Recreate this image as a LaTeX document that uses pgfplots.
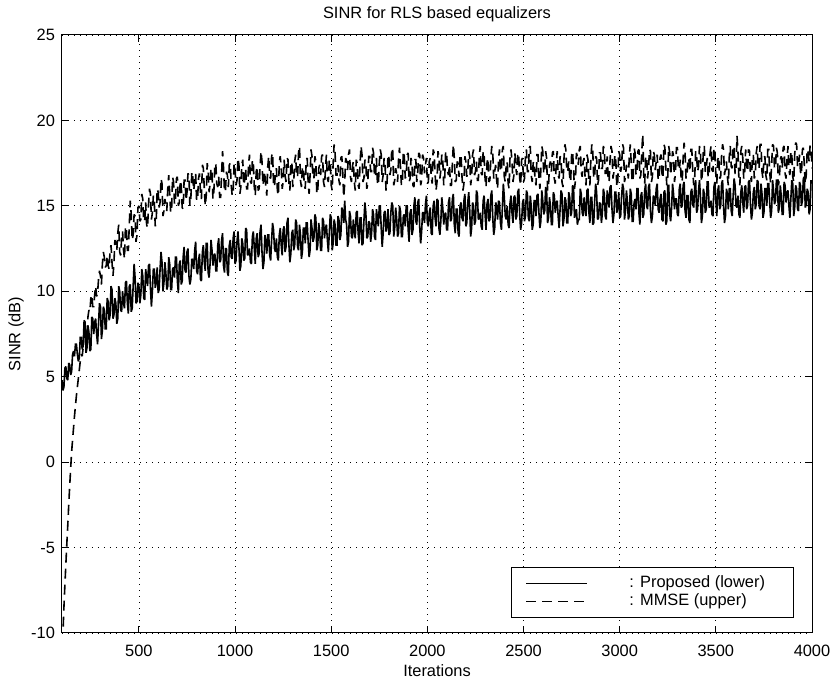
\documentclass[border=0pt]{standalone}
\usepackage{fontspec}
\setmainfont{Liberation Sans}
\usepackage{pgfplots}
\usepackage{pgfplotstable}
\pgfplotsset{compat=1.18}
\pgfplotstableread{
x lo up
100 4.8 -11.5
105 4.2 -10.0
110 4.4 -8.5
115 5.5 -7.2
120 5.6 -6.0
125 4.9 -4.8
130 4.8 -3.7
135 5.8 -2.5
140 5.7 -1.4
145 5.1 -0.4
150 5.3 0.6
155 6.3 1.3
160 6.5 2.0
165 6.2 2.7
170 6.9 3.3
175 6.9 3.9
180 6.3 4.4
185 5.9 4.9
190 6.1 5.4
195 7.3 5.9
200 7.3 6.3
205 6.6 6.2
210 6.8 6.7
215 8.3 7.7
220 8.2 7.8
225 6.4 7.1
230 6.7 7.5
235 8.0 8.5
240 7.6 8.9
245 6.5 8.8
250 6.6 9.6
255 8.5 9.8
260 8.4 9.1
265 7.5 9.1
270 8.2 9.8
275 8.4 10.3
280 7.5 9.7
285 6.9 9.9
290 8.1 10.7
295 9.3 11.2
300 9.1 10.9
305 7.2 10.4
310 7.7 11.6
315 9.1 12.3
320 8.9 12.0
325 7.8 11.4
330 7.8 11.5
335 9.6 12.1
340 9.4 11.5
345 8.3 11.3
350 8.6 12.4
355 10.3 12.7
360 10.1 11.7
365 8.4 10.9
370 8.6 11.6
375 9.6 13.0
380 9.3 12.8
385 8.1 12.4
390 8.4 13.4
395 10.3 13.9
400 10.0 12.3
405 8.9 12.1
410 8.8 13.1
415 10.0 13.5
420 9.3 12.4
425 9.0 11.9
430 10.5 13.8
435 10.6 13.6
440 9.3 12.4
445 8.7 12.4
450 10.3 13.9
455 10.4 15.3
460 8.8 14.5
465 9.0 13.0
470 10.3 13.3
475 11.6 14.5
480 10.8 14.4
485 9.3 12.9
490 9.4 13.3
495 10.5 14.9
500 10.3 15.0
505 9.3 14.1
510 9.8 14.2
515 11.3 15.7
520 10.9 15.4
525 9.6 14.1
530 9.5 14.1
535 11.3 15.2
540 10.8 13.9
545 10.3 13.7
550 11.5 15.1
555 11.6 16.0
560 10.2 15.7
565 9.1 14.2
570 10.0 14.6
575 11.3 15.6
580 11.3 15.2
585 10.2 13.8
590 10.5 14.1
595 11.4 16.0
600 9.9 15.8
605 10.1 14.9
610 11.3 15.2
615 12.3 16.6
620 11.7 16.3
625 10.0 14.4
630 10.5 14.7
635 11.7 15.4
640 11.1 15.1
645 10.1 14.7
650 10.3 16.0
655 12.0 16.8
660 11.6 15.7
665 10.1 14.6
670 10.1 14.8
675 11.3 16.7
680 11.4 16.4
685 10.8 15.1
690 12.0 15.3
695 12.0 16.6
700 10.6 16.7
705 9.9 15.0
710 11.6 15.2
715 11.8 16.5
720 10.4 16.2
725 10.6 14.9
730 12.0 14.8
735 12.6 16.5
740 11.2 16.5
745 11.1 15.3
750 12.3 15.8
755 12.5 16.9
760 10.9 16.8
765 10.4 15.0
770 10.7 15.4
775 11.9 17.0
780 11.8 16.7
785 11.3 15.9
790 12.4 16.4
795 12.9 16.9
800 11.2 15.3
805 11.0 15.4
810 11.8 16.6
815 12.2 16.9
820 10.7 15.8
825 10.6 15.4
830 12.3 17.4
835 12.7 17.2
840 11.7 16.0
845 11.2 15.0
850 12.8 15.6
855 12.8 17.5
860 11.1 17.1
865 10.8 15.8
870 11.6 16.3
875 13.0 17.2
880 12.4 16.9
885 11.5 15.4
890 12.1 15.9
895 12.2 17.5
900 11.2 17.4
905 11.2 16.3
910 12.7 16.1
915 13.1 16.7
920 11.7 15.5
925 11.8 15.5
930 13.0 16.9
935 13.4 18.2
940 11.5 17.2
945 11.1 15.8
950 12.5 15.9
955 12.5 17.0
960 11.1 16.8
965 10.9 16.1
970 12.7 17.4
975 13.0 17.5
980 12.0 16.2
985 11.9 15.6
990 13.1 15.8
995 13.5 17.5
1000 11.6 17.1
1005 11.8 16.2
1010 12.9 16.5
1015 13.5 17.8
1020 12.6 17.4
1025 11.2 15.7
1030 11.5 16.1
1035 13.1 17.4
1040 12.8 17.7
1045 11.8 16.2
1050 11.9 16.5
1055 13.7 17.2
1060 13.6 16.0
1065 12.1 16.0
1070 12.2 17.4
1075 12.5 18.0
1080 11.7 16.4
1085 11.6 16.3
1090 13.2 17.7
1095 13.5 17.5
1100 12.5 16.1
1105 11.6 15.6
1110 13.1 17.0
1115 13.4 17.3
1120 12.0 15.9
1125 12.2 16.0
1130 13.5 17.3
1135 13.9 18.2
1140 12.3 17.6
1145 11.3 16.2
1150 11.7 16.6
1155 13.3 17.0
1160 13.0 16.1
1165 12.2 15.6
1170 13.3 17.3
1175 13.3 17.9
1180 12.1 16.7
1185 11.8 16.6
1190 13.0 17.9
1195 14.0 18.1
1200 13.6 16.3
1205 12.5 16.1
1210 12.3 17.0
1215 13.1 17.2
1220 12.0 15.9
1225 11.8 15.6
1230 13.3 17.6
1235 13.7 17.9
1240 12.7 17.2
1245 12.1 16.0
1250 13.6 16.4
1255 13.8 17.7
1260 12.3 16.8
1265 12.6 16.4
1270 14.0 17.8
1275 14.3 17.7
1280 12.7 16.3
1285 11.7 15.9
1290 12.2 17.4
1295 13.4 17.6
1300 13.6 16.1
1305 12.4 16.4
1310 12.7 17.6
1315 14.2 18.0
1320 14.0 16.7
1325 12.6 16.7
1330 12.4 18.1
1335 13.9 18.5
1340 13.3 16.5
1345 11.9 16.1
1350 12.3 17.2
1355 13.7 17.3
1360 13.7 16.2
1365 12.8 16.0
1370 14.0 17.7
1375 14.0 17.8
1380 12.9 16.4
1385 12.0 15.7
1390 12.4 16.8
1395 14.2 18.3
1400 13.7 17.9
1405 12.9 16.6
1410 13.1 16.6
1415 14.5 17.9
1420 14.3 17.6
1425 12.4 15.7
1430 12.7 15.9
1435 14.0 17.2
1440 13.5 17.4
1445 12.4 16.8
1450 12.4 17.9
1455 14.3 18.0
1460 14.1 16.4
1465 13.1 16.1
1470 13.7 17.2
1475 13.9 18.0
1480 13.0 16.6
1485 12.3 16.4
1490 13.4 17.7
1495 14.5 17.6
1500 14.3 16.2
1505 12.4 15.9
1510 12.8 17.5
1515 14.2 18.6
1520 13.9 18.1
1525 12.7 16.8
1530 12.7 16.8
1535 14.4 17.4
1540 14.2 16.5
1545 13.0 16.2
1550 13.3 17.8
1555 14.9 17.9
1560 14.7 16.9
1565 14.0 15.5
1570 15.3 16.3
1575 14.2 17.8
1580 13.9 17.6
1585 12.6 17.1
1590 12.9 18.0
1595 14.7 18.3
1600 14.4 16.7
1605 13.2 16.4
1610 13.1 17.3
1615 14.2 17.6
1620 13.5 16.4
1625 13.1 15.9
1630 14.6 17.7
1635 14.7 17.5
1640 13.4 16.2
1645 12.8 16.0
1650 14.3 17.5
1655 14.3 18.5
1660 12.7 18.0
1665 12.8 16.4
1670 14.1 16.6
1675 15.2 17.7
1680 14.6 17.6
1685 13.1 16.0
1690 13.2 16.3
1695 14.1 17.9
1700 14.0 17.9
1705 12.9 17.0
1710 13.4 17.0
1715 14.8 18.4
1720 14.5 18.1
1725 13.2 16.7
1730 13.0 16.7
1735 14.8 17.8
1740 14.3 16.4
1745 13.8 16.2
1750 15.0 17.5
1755 15.0 18.3
1760 13.7 18.0
1765 12.6 16.4
1770 13.4 16.8
1775 14.6 17.8
1780 14.7 17.4
1785 13.5 15.9
1790 13.8 16.2
1795 14.8 18.0
1800 13.3 17.8
1805 13.4 16.8
1810 14.6 17.1
1815 15.2 18.4
1820 15.0 18.2
1825 13.2 16.2
1830 13.7 16.5
1835 14.9 17.2
1840 14.3 16.9
1845 13.2 16.4
1850 13.4 17.7
1855 15.0 18.4
1860 14.7 17.3
1865 13.2 16.2
1870 13.2 16.4
1875 14.4 18.2
1880 14.5 17.9
1885 13.8 16.6
1890 15.0 16.8
1895 15.0 18.0
1900 13.6 18.1
1905 12.9 16.4
1910 14.6 16.6
1915 14.8 17.8
1920 13.3 17.5
1925 13.6 16.2
1930 15.0 16.1
1935 15.5 17.7
1940 14.1 17.7
1945 13.9 16.4
1950 15.2 17.0
1955 15.4 18.1
1960 13.8 18.0
1965 12.8 16.2
1970 13.5 16.5
1975 14.6 18.0
1980 14.6 17.8
1985 14.0 16.9
1990 15.1 17.4
1995 15.6 17.8
2000 14.0 16.3
2005 13.8 16.4
2010 14.6 17.6
2015 14.9 17.8
2020 13.4 16.7
2025 13.3 16.3
2030 15.0 18.3
2035 15.3 18.1
2040 14.3 16.9
2045 13.8 15.9
2050 15.4 16.4
2055 15.3 18.2
2060 13.7 17.9
2065 13.3 16.6
2070 14.1 17.1
2075 15.5 18.0
2080 14.9 17.7
2085 13.9 16.2
2090 14.5 16.6
2095 14.6 18.2
2100 13.6 18.1
2105 13.6 17.0
2110 15.2 16.8
2115 15.5 17.4
2120 14.1 16.2
2125 14.2 16.2
2130 15.4 17.5
2135 15.7 18.6
2140 13.9 17.8
2145 13.4 16.4
2150 14.8 16.5
2155 14.8 17.6
2160 13.4 17.4
2165 13.2 16.7
2170 15.0 18.0
2175 15.2 18.0
2180 14.3 16.7
2185 14.1 15.9
2190 15.3 16.3
2195 15.7 17.9
2200 13.8 17.6
2205 14.0 16.7
2210 15.2 17.0
2215 15.8 18.2
2220 14.8 17.9
2225 13.2 16.2
2230 13.7 16.7
2235 15.2 18.0
2240 15.0 18.3
2245 13.9 16.8
2250 14.1 17.0
2255 15.9 17.6
2260 15.7 16.5
2265 14.2 16.5
2270 14.3 17.9
2275 14.6 18.5
2280 13.8 16.9
2285 13.6 16.8
2290 15.3 18.2
2295 15.6 18.0
2300 14.5 16.6
2305 13.6 16.1
2310 15.1 17.5
2315 15.4 17.8
2320 14.1 16.4
2325 14.2 16.5
2330 15.6 17.8
2335 15.9 18.5
2340 14.3 18.1
2345 13.3 16.6
2350 13.7 17.0
2355 15.2 17.4
2360 15.0 16.5
2365 14.2 16.0
2370 15.3 17.7
2375 15.2 18.3
2380 14.0 17.1
2385 13.6 17.0
2390 14.9 18.3
2395 16.3 18.5
2400 15.5 16.7
2405 14.4 16.4
2410 14.2 17.4
2415 15.0 17.6
2420 13.9 16.3
2425 13.7 16.0
2430 15.2 18.0
2435 15.6 18.3
2440 14.6 17.6
2445 14.0 16.4
2450 15.5 16.8
2455 15.6 18.1
2460 14.2 17.2
2465 14.4 16.8
2470 15.8 18.1
2475 16.0 17.9
2480 14.5 16.6
2485 13.6 16.2
2490 14.0 17.7
2495 15.2 17.8
2500 15.4 16.4
2505 14.1 16.6
2510 14.4 17.9
2515 15.9 18.3
2520 15.7 17.0
2525 14.3 17.0
2530 14.1 18.4
2535 15.6 18.5
2540 15.0 16.8
2545 13.6 16.4
2550 13.9 17.5
2555 15.3 17.6
2560 15.3 16.5
2565 14.4 16.2
2570 15.6 18.0
2575 15.7 18.0
2580 14.6 16.7
2585 13.7 16.0
2590 14.1 17.1
2595 15.9 18.5
2600 15.3 18.2
2605 14.5 16.9
2610 14.7 16.9
2615 16.1 18.2
2620 15.9 17.8
2625 14.0 15.9
2630 14.3 16.2
2635 15.5 17.4
2640 15.0 17.6
2645 13.9 17.0
2650 13.9 18.1
2655 15.8 18.2
2660 15.6 16.6
2665 14.6 16.3
2670 15.2 17.4
2675 15.3 18.2
2680 14.4 16.8
2685 13.7 16.6
2690 14.8 17.9
2695 15.9 17.8
2700 15.7 16.4
2705 13.8 16.1
2710 14.2 17.7
2715 15.5 18.6
2720 15.3 18.3
2725 14.0 17.0
2730 14.0 17.0
2735 15.8 17.6
2740 15.5 16.7
2745 14.4 16.4
2750 14.6 18.0
2755 16.2 18.2
2760 16.1 17.1
2765 14.3 16.0
2770 14.5 16.5
2775 14.8 18.1
2780 13.9 17.9
2785 14.2 17.4
2790 14.2 18.3
2795 16.0 18.5
2800 15.7 17.0
2805 14.6 16.7
2810 14.4 17.6
2815 15.5 17.8
2820 14.8 16.7
2825 14.4 16.2
2830 15.9 18.0
2835 16.0 17.7
2840 14.6 16.4
2845 14.0 16.2
2850 15.5 17.7
2855 15.5 18.6
2860 13.9 18.2
2865 14.0 16.6
2870 15.3 16.8
2875 16.3 17.9
2880 15.8 17.8
2885 14.2 16.2
2890 14.3 16.5
2895 15.2 18.1
2900 15.1 18.1
2905 14.0 17.2
2910 14.6 17.2
2915 16.0 18.5
2920 15.7 18.3
2925 14.4 16.9
2930 14.2 16.9
2935 15.9 17.9
2940 15.5 16.6
2945 14.9 16.4
2950 16.1 17.7
2955 16.2 18.5
2960 14.8 18.2
2965 14.0 16.6
2970 14.5 17.0
2975 15.8 18.0
2980 15.8 17.6
2985 14.6 16.1
2990 14.9 16.4
2995 15.8 18.2
3000 14.3 18.0
3005 14.4 17.0
3010 15.6 17.3
3015 16.3 18.6
3020 16.0 18.4
3025 14.2 16.4
3030 14.7 16.7
3035 15.9 17.4
3040 15.3 17.1
3045 14.2 16.6
3050 14.4 17.9
3055 16.0 18.6
3060 15.7 17.5
3065 14.1 16.4
3070 14.1 16.6
3075 15.2 18.4
3080 15.4 18.1
3085 14.8 16.8
3090 16.0 17.0
3095 16.0 18.2
3100 14.6 18.3
3105 13.9 16.6
3110 15.6 16.8
3115 15.8 18.2
3120 14.3 19.2
3125 14.5 16.8
3130 15.9 16.3
3135 16.3 17.9
3140 15.0 17.9
3145 14.8 16.6
3150 16.1 17.2
3155 16.3 18.3
3160 14.7 18.2
3165 14.0 16.4
3170 14.4 16.7
3175 15.6 18.2
3180 15.5 18.0
3185 15.0 17.1
3190 16.0 17.6
3195 16.3 18.0
3200 14.8 16.5
3205 14.6 16.6
3210 15.4 17.8
3215 15.7 18.0
3220 14.2 16.9
3225 14.1 16.6
3230 15.8 18.6
3235 15.9 18.4
3240 13.9 17.2
3245 14.1 16.2
3250 16.2 16.7
3255 16.2 18.5
3260 14.5 18.1
3265 14.1 16.8
3270 14.9 17.4
3275 16.3 18.2
3280 15.7 17.9
3285 14.8 16.4
3290 15.4 16.9
3295 15.4 18.4
3300 14.5 18.4
3305 14.4 17.2
3310 16.0 17.1
3315 16.3 17.7
3320 14.9 16.5
3325 15.0 16.4
3330 16.2 17.8
3335 16.4 18.7
3340 14.7 18.1
3345 14.3 16.6
3350 15.6 16.8
3355 15.6 17.8
3360 14.2 17.7
3365 14.0 17.0
3370 15.8 18.3
3375 16.0 18.3
3380 15.1 17.0
3385 14.9 16.2
3390 16.1 16.6
3395 16.5 18.2
3400 14.6 17.9
3405 14.8 17.0
3410 15.9 17.3
3415 16.5 18.5
3420 15.5 18.2
3425 14.0 16.4
3430 14.4 16.9
3435 16.0 18.2
3440 15.7 18.5
3445 14.6 17.0
3450 14.8 17.2
3455 16.4 17.8
3460 16.4 16.7
3465 14.9 16.7
3470 15.0 18.1
3475 15.3 18.5
3480 14.5 17.1
3485 14.4 17.0
3490 16.1 18.4
3495 16.4 18.2
3500 15.3 16.8
3505 14.4 16.3
3510 15.9 17.7
3515 16.2 17.9
3520 14.8 16.6
3525 15.0 16.7
3530 16.3 18.0
3535 16.5 18.6
3540 15.0 18.3
3545 14.0 16.8
3550 14.4 17.2
3555 16.0 17.6
3560 15.7 16.7
3565 14.8 16.2
3570 16.0 17.9
3575 16.0 18.5
3580 14.7 17.3
3585 14.4 17.2
3590 15.6 18.5
3595 16.6 18.5
3600 16.2 16.9
3605 15.0 16.9
3610 14.9 19.1
3615 15.6 18.2
3620 14.5 16.5
3625 14.3 16.2
3630 15.8 18.2
3635 16.2 18.5
3640 15.2 17.8
3645 14.6 16.6
3650 16.1 17.0
3655 16.2 18.3
3660 14.8 17.4
3665 15.0 17.0
3670 16.4 18.3
3675 16.5 18.2
3680 15.1 16.8
3685 14.2 16.4
3690 14.6 17.9
3695 15.8 18.0
3700 16.1 16.6
3705 14.8 16.8
3710 15.1 18.1
3715 16.5 18.5
3720 16.4 17.2
3725 15.0 17.2
3730 14.8 18.6
3735 16.3 18.6
3740 15.7 17.0
3745 14.3 16.6
3750 14.6 17.8
3755 16.0 17.9
3760 16.0 16.8
3765 15.0 16.5
3770 16.3 18.3
3775 16.3 18.3
3780 15.2 17.0
3785 14.3 16.3
3790 14.7 17.4
3795 16.5 18.6
3800 15.9 18.5
3805 15.1 17.2
3810 15.3 17.2
3815 16.5 18.4
3820 16.5 18.1
3825 14.6 16.2
3830 14.9 16.5
3835 16.2 17.7
3840 15.6 17.9
3845 14.5 17.2
3850 14.5 18.4
3855 16.4 18.5
3860 16.2 16.9
3865 15.2 16.6
3870 15.8 17.7
3875 15.9 18.5
3880 15.0 17.1
3885 14.3 16.8
3890 15.4 18.2
3895 16.5 18.0
3900 16.3 16.7
3905 14.4 16.4
3910 14.9 18.0
3915 16.2 18.7
3920 16.0 18.6
3925 14.8 17.3
3930 14.7 17.3
3935 16.4 18.0
3940 16.2 17.0
3945 15.0 16.8
3950 15.3 18.3
3955 16.6 18.4
3960 16.7 17.4
3965 14.9 16.3
3970 15.1 16.8
3975 16.0 18.3
3980 15.8 18.1
3985 14.5 17.6
3990 14.8 18.5
3995 16.5 18.5
4000 16.3 17.2
}\sinrdata
\begin{document}
\begin{tikzpicture}
\begin{axis}[
  scale only axis,
  width=375pt, height=299pt,
  xmin=100, xmax=4000, ymin=-10, ymax=25,
  xtick={500,1000,...,4000},
  ytick={-10,-5,...,25},
  grid=major,
  major grid style={black, line width=0.4pt, dash pattern=on 0.5pt off 2.5pt},
  tick align=inside,
  major tick length=3.5pt,
  tick style={black, line width=0.5pt},
  axis line style={black, line width=0.5pt},
  font=\fontsize{8.2}{9.5}\selectfont,
  /pgf/number format/assume math mode=true,
  /pgf/number format/1000 sep={},
  xticklabel style={yshift=-2.6pt},
  title={SINR for RLS based equalizers},
  every axis title/.style={at={(axis description cs:0.5,1.0268)}, anchor=base, inner sep=0pt},
  xlabel={Iterations},
  xlabel style={at={(axis description cs:0.5,-0.072)}, anchor=base, inner sep=0pt},
  ylabel={SINR (dB)},
  ylabel style={at={(axis description cs:-0.0613,0.5)}, anchor=center, inner sep=0pt},
  legend image code/.code={\draw[#1, line width=0.5pt] (0pt,0pt) -- (30.5pt,0pt); \path[draw=none] (0pt,0pt) -- (50pt,0pt);},
  legend style={at={(1,0)}, anchor=south east, xshift=-9pt, yshift=7.5pt,
    draw=black, line width=0.5pt, fill=white,
    inner xsep=7pt, inner ysep=3.45pt, row sep=0pt,
    nodes={inner xsep=1.5pt, inner ysep=0.7pt, text height=6pt, text depth=1.7pt},
    font=\fontsize{8.2}{9.5}\selectfont},
  legend cell align=left,
]
\addplot[black, line width=0.8pt, line join=miter, miter limit=2] table[x=x, y=lo] {\sinrdata};
\addlegendentry{\makebox[73.5pt][l]{: Proposed (lower)}}
\addplot[black, line width=0.8pt, line join=miter, miter limit=2, dash pattern=on 5pt off 3pt] table[x=x, y=up] {\sinrdata};
\addlegendentry{\makebox[73.5pt][l]{: MMSE (upper)}}
\end{axis}
\pgfresetboundingbox
\path[use as bounding box] ([shift={(-31pt,-23.5pt)}]current axis.south west) rectangle ([shift={(12pt,17.5pt)}]current axis.north east);
\end{tikzpicture}
\end{document}
